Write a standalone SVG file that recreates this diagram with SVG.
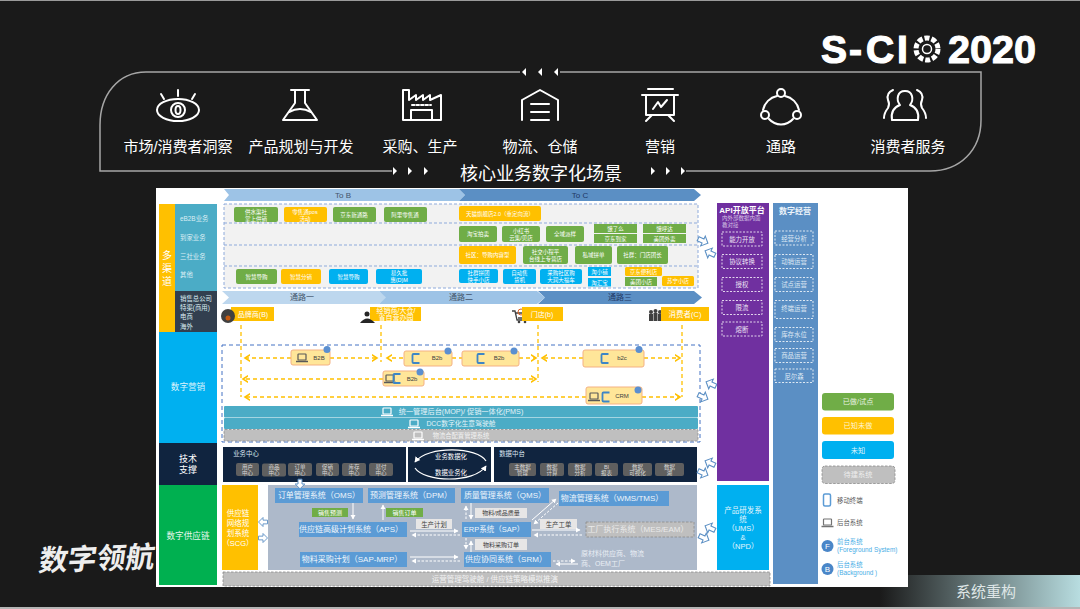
<svg xmlns="http://www.w3.org/2000/svg" width="1080" height="609" viewBox="0 0 1080 609">
<style>
text{font-family:"Liberation Sans","Noto Sans CJK SC",sans-serif;text-anchor:middle;dominant-baseline:central}
.st{text-anchor:start}
.ic{fill:none;stroke:#fff;stroke-width:2;stroke-linejoin:round;stroke-linecap:round}
.frame{fill:none;stroke:#a6a6a6;stroke-width:1.500}
.g{fill:#70ad47}.y{fill:#ffc000}.b{fill:#00b0f0}
.s5{font-size:5.500px}.s6{font-size:6px}.s63{font-size:6.400px}.s7{font-size:7px}.s75{font-size:7.500px}.s8{font-size:8px}.s86{font-size:8.600px}.s9{font-size:9px}
.dash{fill:none;stroke:#fff;stroke-width:.8;stroke-dasharray:2 1.500}
.ydash{fill:none;stroke:#ffc000;stroke-width:1.300;stroke-dasharray:4 3}
.node{fill:#ffe699;stroke:#f4b183;stroke-width:1}
.pill{fill:#5f5f5f}
.sys{fill:#5b9bd5}
.tag{fill:#e7e6e6}
.wl{fill:none;stroke:#fff;stroke-width:1}
.wd{fill:none;stroke:#fff;stroke-width:1;stroke-dasharray:2.500 1.500}
.grey{fill:#bfbfbf;stroke:#8c8c8c;stroke-width:.8;stroke-dasharray:2.500 1.500}
.gridl{fill:none;stroke:#8eaadb;stroke-width:1;stroke-dasharray:3 2}
</style>
<defs>
<marker id="ma" markerWidth="6" markerHeight="6" refX="4" refY="3" orient="auto-start-reverse"><path d="M0 .5L4 3L0 5.500" fill="none" stroke="#ffc000" stroke-width="1.200"/></marker>
<marker id="wa" markerWidth="6" markerHeight="6" refX="4" refY="3" orient="auto-start-reverse"><path d="M0 .5L4.500 3L0 5.500z" fill="#fff"/></marker>
<path id="ha" d="M-6-2.500H0V-6L6 0L0 6V2.500H-6z" fill="#fff" stroke="#5b8fc4" stroke-width="1.200"/>
<g id="lap"><rect x="-4" y="-4" width="8" height="6" rx=".6" fill="none" stroke="currentColor" stroke-width="1.200"/><path d="M-6 3.500H6" stroke="currentColor" stroke-width="1.500"/></g>
<path id="ph" d="M3.500-4.500H-2.500Q-3.500-4.500-3.500-3.500V3.500Q-3.500 4.500-2.500 4.500H3.500" fill="none" stroke="#3d85c6" stroke-width="1.800"/>
<linearGradient id="fg" x1="0" x2="1"><stop offset="0" stop-color="#1a1a1a"/><stop offset="1" stop-color="#b8dde0"/></linearGradient>
</defs>
<rect width="1080" height="609" fill="#1a1a1a"/>
<rect width="1080" height="1" fill="#9a9a9a"/>
<rect y="607" width="1080" height="2" fill="#b5b5b5"/>
<rect x="880" y="575" width="200" height="32" fill="url(#fg)"/>
<text x="986" y="591" font-size="15" fill="#dfe6e6">系统重构</text>
<g id="logo">
<text x="821 849 866 897" y="63" font-size="39" font-weight="700" fill="#fff" stroke="#fff" stroke-width="1.200" style="text-anchor:start;dominant-baseline:auto">S-CI</text>
<circle cx="927" cy="49" r="11" fill="none" stroke="#fff" stroke-width="5" stroke-dasharray="5 2"/>
<circle cx="927" cy="49" r="4.500" fill="none" stroke="#fff" stroke-width="1.500"/>
<text x="948" y="63" font-size="39" font-weight="700" fill="#fff" stroke="#fff" stroke-width="1" textLength="88" lengthAdjust="spacingAndGlyphs" style="text-anchor:start;dominant-baseline:auto">2020</text>
</g>
<text id="brand" x="97" y="559" font-size="29" font-weight="700" fill="#eeeeee" textLength="116" transform="rotate(-2 97 559) translate(97 559) skewX(-10) translate(-97 -559)">数字领航</text>
<g id="frame">
<path class="frame" d="M520 72H146C118 72 100 95 100 125V171H392M686 171H930C960 171 981 150 981 120V72H560"/>
<path d="M526 68V76L522 72zM542 68V76L538 72zM558 68V76L554 72z" fill="#fff"/>
<path d="M393 167V175L397 171zM408 167V175L412 171zM424 167V175L428 171zM651 167V175L655 171zM666 167V175L670 171zM681 167V175L685 171z" fill="#fff"/>
</g>
<text x="541" y="174" font-size="18" fill="#fff">核心业务数字化场景</text>
<g id="scene-market"><g class="ic"><ellipse cx="178" cy="110" rx="21" ry="11"/><circle cx="178" cy="110" r="7"/><ellipse cx="178" cy="110" rx="2.500" ry="4"/><path d="M178 90V96M161 94L164 99M195 94L192 99"/></g><text x="178" y="146" font-size="15" fill="#fff">市场/消费者洞察</text></g>
<g id="scene-product"><g class="ic"><path d="M291 90H309M295 90V103L283 120H317L305 103V90"/><path d="M289 112Q300 106 311 112"/></g><text x="301" y="146" font-size="15" fill="#fff">产品规划与开发</text></g>
<g id="scene-purchase"><g class="ic"><path d="M403 120V90H409V100L416 95V100L423 95V100L430 95V100L441 95V120z"/><rect x="411" y="110" width="21" height="10"/><path d="M412 105H431" stroke-dasharray="2.500 2"/></g><text x="420" y="146" font-size="15" fill="#fff">采购、生产</text></g>
<g id="scene-logistics"><g class="ic"><path d="M522 120V100L540 90L558 100V120"/><path d="M531 104H549M531 112H549M531 120H549"/></g><text x="540" y="146" font-size="15" fill="#fff">物流、仓储</text></g>
<g id="scene-marketing"><g class="ic"><path d="M648 89H673M642 95H678"/><rect x="646" y="95" width="28" height="20"/><path d="M653 109L658 102L661 107L667 100"/><path d="M652 115L646 121M668 115L674 121"/></g><text x="660" y="146" font-size="15" fill="#fff">营销</text></g>
<g id="scene-channel"><g class="ic"><circle cx="781" cy="93" r="4"/><circle cx="765" cy="115" r="4"/><circle cx="797" cy="115" r="4"/><path d="M777 96A18 18 0 0 0 763 110M785 96A18 18 0 0 1 799 110M769 119A16 16 0 0 0 793 119"/></g><text x="781" y="146" font-size="15" fill="#fff">通路</text></g>
<g id="scene-consumer"><g class="ic"><path d="M893 90Q886 93 888 100Q890 104 888 108Q884 113 884 118M917 90Q924 93 922 100Q920 104 922 108Q926 113 926 118"/><path d="M905 91C897 91 896 100 900 105C892 108 891 114 892 120H918C919 114 918 108 910 105C914 100 913 91 905 91z"/></g><text x="908" y="146" font-size="15" fill="#fff">消费者服务</text></g>

<rect id="panel" x="156" y="188" width="752" height="399" fill="#fff"/>

<g id="lane-channel">
<rect x="159" y="204" width="17" height="128" class="y"/>
<text x="167" y="268" font-size="10" fill="#fff"><tspan x="167" dy="-13">多</tspan><tspan x="167" dy="13">渠</tspan><tspan x="167" dy="13">道</tspan></text>
<rect x="175" y="204" width="42" height="87" fill="#4bacc6"/>
<rect x="175" y="291" width="42" height="41" fill="#323f4f"/>
<g class="s63" fill="#dbeef4"><text class="st" x="180" y="218">eB2B业务</text><text class="st" x="180" y="237">到家业务</text><text class="st" x="180" y="256">三社业务</text><text class="st" x="180" y="274">其他</text>
<text class="st" x="180" y="298">销售总公司</text><text class="st" x="180" y="307">特渠(商用)</text><text class="st" x="180" y="316">电商</text><text class="st" x="180" y="326">海外</text></g>
</g>
<g id="lane-marketing"><rect x="159" y="332" width="58" height="111" class="b"/><text x="188" y="387" class="s86" fill="#dff4fd">数字营销</text></g>
<g id="lane-tech"><rect x="159" y="443" width="58" height="42" fill="#10243f"/><text x="188" y="459" class="s9" fill="#fff">技术</text><text x="188" y="470" class="s9" fill="#fff">支撑</text></g>
<g id="lane-supply"><rect x="159" y="485" width="58" height="100" fill="#00b050"/><text x="188" y="536" class="s86" fill="#e6f7ec">数字供应链</text></g>

<g id="headers">
<path d="M224 189H459L465 195L459 201H224L229 195z" fill="#9dc3e6"/>
<path d="M459 189H694L701 195L694 201H459L465 195z" fill="#5b8fc4"/>
<text x="343" y="195" class="s8" fill="#44546a">To B</text><text x="580" y="195" class="s8" fill="#1f3864">To C</text>
<path d="M222 291H379L387 297.500L379 304H222L229 297.500z" fill="#bdd7ee"/>
<path d="M379 291H537L545 297.500L537 304H379L386 297.500z" fill="#9dc3e6"/>
<path d="M538 291H694L702 297.500L694 304H538L545 297.500z" fill="#5b8fc4"/>
<text x="302" y="297.500" class="s8" fill="#44546a">通路一</text><text x="461" y="297.500" class="s8" fill="#44546a">通路二</text><text x="620" y="297.500" class="s8" fill="#1f3864">通路三</text>
</g>

<g id="channel-grid">
<rect x="224" y="204" width="474" height="84" fill="#f2f2f2"/>
<rect x="224" y="204" width="474" height="84" class="gridl"/>
<path class="gridl" d="M224 223H698M224 245H698M224 266H698"/>
<g fill="#fff" class="s5">
<rect x="234" y="207" width="44" height="15" rx="2" class="g"/><text x="256" y="211.500">供水渠社</text><text x="256" y="218.500">掌上供销</text>
<rect x="284" y="207" width="43" height="15" rx="2" class="y"/><text x="305" y="211.500">零售通pos</text><text x="305" y="218.500">活动</text>
<rect x="333" y="207" width="43" height="15" rx="2" class="g"/><text x="354" y="214.500">京东新通路</text>
<rect x="384" y="207" width="43" height="15" rx="2" class="g"/><text x="405" y="214.500">阿里零售通</text>
<rect x="459" y="206" width="82" height="15" rx="2" class="y"/><text x="500" y="213.500">天猫旗舰店2.0（重定向流）</text>
<rect x="459" y="226" width="38" height="16" rx="2" class="g"/><text x="478" y="234">淘宝拍卖</text>
<rect x="502" y="226" width="38" height="16" rx="2" class="g"/><text x="521" y="230.500">小红书</text><text x="521" y="237.500">云集/贝店</text>
<rect x="546" y="226" width="38" height="16" rx="2" class="g"/><text x="565" y="234">全域派样</text>
<rect x="594" y="224" width="43" height="9" class="g"/><text x="615.500" y="228.500">饿了么</text>
<rect x="594" y="234" width="43" height="9" class="g"/><text x="615.500" y="238.500">京东到家</text>
<rect x="643" y="224" width="43" height="9" class="g"/><text x="664.500" y="228.500">饿呼达</text>
<rect x="643" y="234" width="43" height="9" class="g"/><text x="664.500" y="238.500">美团外卖</text>
<rect x="459" y="246" width="57" height="18" rx="2" class="y"/><text x="487.500" y="255">社区：导购内容型</text>
<rect x="523" y="246" width="45" height="18" rx="2" class="g"/><text x="545.500" y="251.500">社交小程平</text><text x="545.500" y="258.500">台线上专营店</text>
<rect x="575" y="246" width="37" height="18" rx="2" class="g"/><text x="593.500" y="255">私域拼单</text>
<rect x="617" y="246" width="51" height="18" rx="2" class="g"/><text x="642.500" y="255">社群：门店团长</text>
<rect x="236" y="269" width="41" height="15" rx="2" class="g"/><text x="256.500" y="276.500">智慧导购</text>
<rect x="281" y="269" width="40" height="15" rx="2" class="y"/><text x="301" y="276.500">智慧分销</text>
<rect x="329" y="269" width="39" height="15" rx="2" class="b"/><text x="348.500" y="276.500">智慧导购</text>
<rect x="376" y="269" width="46" height="15" rx="2" class="b"/><text x="399" y="273">易久批</text><text x="399" y="280">惠(D)M</text>
<rect x="459" y="269" width="39" height="14" rx="2" class="b"/><text x="478.500" y="272.500">社群拼团</text><text x="478.500" y="279.500">快手小店</text>
<rect x="503" y="269" width="33" height="15" rx="2" class="b"/><text x="519.500" y="273">自动售</text><text x="519.500" y="280">货机</text>
<rect x="540" y="269" width="42" height="15" rx="2" class="b"/><text x="561" y="273">采购社区购</text><text x="561" y="280">大润大福车</text>
<rect x="588" y="267" width="23" height="9" class="b"/><text x="599.500" y="271.500">淘小铺</text>
<rect x="588" y="278" width="23" height="8.500" class="b"/><text x="599.500" y="282.500">淘汇宝</text>
<rect x="625" y="267" width="37" height="9" rx="1.500" class="y"/><text x="643.500" y="271.500">京东便利店</text>
<rect x="625" y="277" width="32" height="9" class="g"/><text x="641" y="281.500">美团小店</text>
<rect x="662" y="276" width="32" height="10" rx="1.500" class="y"/><text x="678" y="281">苏宁小店</text>
</g></g>

<g id="actors" fill="#fff" class="s7">
<rect x="231" y="307" width="43" height="14" class="y"/><circle cx="228" cy="316" r="7" fill="#404040"/><circle cx="228" cy="318" r="2.500" fill="#c55a11"/><text x="253" y="314">品牌商(B)</text>
<rect x="370" y="307" width="51" height="14" class="y"/><circle cx="367" cy="314" r="2.500" fill="#262626"/><path d="M360 323Q367 314 375 323z" fill="#262626"/><text x="396" y="310.500">经销商/大仓/</text><text x="396" y="317.500">省自营办园</text>
<path d="M512 311H515L517 320H526M516 313H527L526 318H518" fill="none" stroke="#404040" stroke-width="1.300"/><circle cx="521" cy="312" r="3" fill="none" stroke="#e06020"/><circle cx="519" cy="322" r="1.300" fill="#404040"/><circle cx="525" cy="322" r="1.300" fill="#404040"/><rect x="522" y="307" width="41" height="14" class="y"/><text x="542" y="314">门店(b)</text>
<g fill="#404040"><circle cx="651" cy="312" r="2"/><rect x="649" y="314" width="4" height="7"/><circle cx="655.500" cy="311" r="2"/><rect x="653.500" y="313" width="4" height="8"/><circle cx="660" cy="312" r="2"/><rect x="658" y="314" width="4" height="7"/></g><rect x="661" y="307" width="48" height="14" class="y"/><text x="685" y="314" class="s75">消费者(C)</text>
</g>

<g id="marketing-frame"><rect x="222" y="345" width="478" height="97" fill="none" stroke="#4472c4" stroke-width="1" stroke-dasharray="4 3"/></g>

<g id="connectors">
<path class="ydash" d="M241 325V397M381 325V362M538 325V382M682 325V397"/>
<g class="ydash"><path d="M291 358H245" marker-end="url(#ma)"/><path d="M330 358H377" marker-end="url(#ma)"/><path d="M403 358H387" marker-end="url(#ma)"/><path d="M452 358H462"/><path d="M519 358H536" marker-end="url(#ma)"/><path d="M583 358H542" marker-end="url(#ma)"/><path d="M644 358H680" marker-end="url(#ma)"/><path d="M383 379H243" marker-end="url(#ma)"/><path d="M424 379H536" marker-end="url(#ma)"/><path d="M586 397H245" marker-end="url(#ma)"/><path d="M642 397H680" marker-end="url(#ma)"/></g>
</g>

<g id="n-b2b-1"><rect class="node" x="291" y="350" width="39" height="15" rx="2"/><use href="#lap" x="302" y="358" color="#595959"/><text x="319" y="357.500" class="s6" fill="#404040">B2B</text><circle cx="327" cy="349.500" r="3.500" fill="#5b8fd0"/></g>
<g id="n-b2b-2"><rect class="node" x="404" y="351" width="48" height="15" rx="2"/><use href="#ph" x="416" y="358.500"/><text x="437" y="358" class="s6" fill="#404040">B2b</text><circle cx="448" cy="351" r="3.500" fill="#5b8fd0"/></g>
<g id="n-b2b-3"><rect class="node" x="462" y="351" width="57" height="15" rx="2"/><use href="#ph" x="481" y="358.500"/><text x="499" y="358" class="s6" fill="#404040">B2b</text><circle cx="514" cy="351" r="3.500" fill="#5b8fd0"/></g>
<g id="n-b2c"><rect class="node" x="583" y="350" width="61" height="17" rx="2"/><use href="#ph" x="605" y="358.500"/><text x="622" y="358" class="s6" fill="#404040">b2c</text><circle cx="639" cy="349.500" r="3.500" fill="#5b8fd0"/></g>
<g id="n-b2b-4"><rect class="node" x="383" y="371" width="41" height="15" rx="2"/><use href="#lap" x="390" y="379" color="#595959"/><use href="#ph" x="397" y="378.500"/><text x="412" y="378.500" class="s6" fill="#404040">B2b</text><circle cx="420" cy="372" r="3.500" fill="#5b8fd0"/></g>
<g id="n-crm"><rect class="node" x="586" y="387" width="56" height="17" rx="2"/><use href="#lap" x="594" y="397" color="#595959"/><use href="#ph" x="606" y="397"/><text x="622" y="395.500" class="s6" fill="#404040">CRM</text><circle cx="638" cy="390" r="3.500" fill="#5b8fd0"/></g>

<g id="bars">
<rect x="224" y="406" width="474" height="11.500" rx="1" fill="#4bacc6"/><use href="#lap" x="387" y="412" color="#fff"/><text x="461" y="411.500" font-size="7.200" fill="#e3f3f8">统一管理后台(MOP)/ 促销一体化(PMS)</text>
<rect x="224" y="418" width="474" height="11" rx="1" fill="#4bacc6"/><use href="#lap" x="414" y="424" color="#fff"/><text x="461" y="423.500" font-size="6.800" fill="#e3f3f8">DCC数字化生意驾驶舱</text>
<rect x="224" y="429.500" width="474" height="11.500" rx="1" class="grey"/><use href="#lap" x="418" y="436" color="#fff"/><text x="461" y="435" font-size="6.300" fill="#f2f2f2">物流合配置管理系统</text>
</g>

<g id="biz-center">
<rect x="223" y="447" width="183" height="35" fill="#10243f"/>
<text x="246" y="453" class="s63" fill="#dce6f2">业务中心</text>
<g fill="#d9d9d9" class="s5">
<rect class="pill" x="236" y="463" width="23" height="13" rx="2"/><text x="247.500" y="466.500">用户</text><text x="247.500" y="472.500">中心</text>
<rect class="pill" x="262" y="463.500" width="24" height="13" rx="2"/><text x="274" y="467">商品</text><text x="274" y="473">中心</text>
<rect class="pill" x="288" y="463" width="24" height="13" rx="2"/><text x="300" y="466.500">订单</text><text x="300" y="472.500">中心</text>
<rect class="pill" x="316" y="463" width="23" height="13" rx="2"/><text x="327.500" y="466.500">促销</text><text x="327.500" y="472.500">中心</text>
<rect class="pill" x="342" y="463" width="24" height="13" rx="2"/><text x="354" y="466.500">库存</text><text x="354" y="472.500">中心</text>
<rect class="pill" x="369" y="463" width="24" height="13" rx="2"/><text x="381" y="466.500">易付</text><text x="381" y="472.500">中心</text>
</g></g>
<g id="twin">
<rect x="408" y="447" width="83" height="35" fill="#10243f"/>
<path d="M486 461C478 447 428 445 415 462" fill="none" stroke="#fff" stroke-width="1.200" marker-end="url(#wa)"/>
<path d="M415 468C424 482 474 484 486 466" fill="none" stroke="#fff" stroke-width="1.200" marker-end="url(#wa)"/>
<text x="451" y="456" class="s63" fill="#fff">业务数据化</text><text x="451" y="472" class="s63" fill="#fff">数据业务化</text>
</g>
<g id="data-center">
<rect x="494" y="447" width="203" height="35" fill="#10243f"/>
<text x="512" y="453" class="s63" fill="#dce6f2">数据中台</text>
<g fill="#d9d9d9" class="s5">
<rect class="pill" x="509" y="463" width="27" height="13" rx="2"/><text x="522.500" y="466.500">主数据</text><text x="522.500" y="472.500">管理</text>
<rect class="pill" x="540" y="463" width="24" height="13" rx="2"/><text x="552" y="466.500">数据</text><text x="552" y="472.500">计算</text>
<rect class="pill" x="568" y="463" width="24" height="13" rx="2"/><text x="580" y="466.500">数据</text><text x="580" y="472.500">分析</text>
<rect class="pill" x="595" y="463" width="23" height="13" rx="2"/><text x="606.500" y="466.500">BI</text><text x="606.500" y="472.500">报表</text>
<rect class="pill" x="623" y="463" width="29" height="13" rx="2"/><text x="637.500" y="466.500">数据</text><text x="637.500" y="472.500">可视化</text>
<rect class="pill" x="655" y="463" width="29" height="13" rx="2"/><text x="669.500" y="466.500">数据</text><text x="669.500" y="472.500">湖</text>
</g></g>

<g id="scg"><rect x="222" y="485" width="36" height="85" class="y"/><g fill="#fff" class="s75"><text x="238" y="513">供应链</text><text x="238" y="523">网络规</text><text x="238" y="533">划系统</text><text x="238" y="543">（SCG）</text></g></g>
<rect id="supply-bg" x="268" y="485" width="429" height="85" fill="#adb9ca"/>
<g id="oms"><rect class="sys" x="275" y="488" width="88" height="15"/><text x="319" y="495.500" class="s8" fill="#eef5fb">订单管理系统（OMS）</text></g>
<g id="dpm"><rect class="sys" x="368" y="488" width="87" height="15"/><text x="411" y="495.500" class="s8" fill="#eef5fb">预测管理系统（DPM）</text></g>
<g id="qms"><rect class="sys" x="461" y="488" width="88" height="15"/><text x="505" y="495.500" class="s8" fill="#eef5fb">质量管理系统（QMS）</text></g>
<g id="wms"><rect class="sys" x="559" y="491" width="110" height="15"/><text x="612" y="498.500" class="s8" fill="#eef5fb">物流管理系统（WMS/TMS）</text></g>
<g id="aps"><rect class="sys" x="299" y="522" width="108" height="15"/><text x="351" y="529.500" class="s8" fill="#eef5fb">供应链高级计划系统（APS）</text></g>
<g id="erp"><rect class="sys" x="462" y="522" width="69" height="15"/><text x="494" y="529.500" class="s75" fill="#eef5fb">ERP系统（SAP）</text></g>
<g id="mes"><rect x="586" y="522" width="108" height="15" class="grey"/><text x="638" y="529.500" class="s8" fill="#eaeaea">工厂执行系统（MES/EAM）</text></g>
<g id="mrp"><rect class="sys" x="300" y="552" width="107" height="15"/><text x="352" y="559.500" class="s8" fill="#eef5fb">物料采购计划（SAP-MRP）</text></g>
<g id="srm"><rect class="sys" x="464" y="552" width="87" height="15"/><text x="506" y="559.500" class="s8" fill="#eef5fb">供应协同系统（SRM）</text></g>
<g id="supply-notes" class="s6">
<rect class="g" x="312" y="508" width="36" height="9"/><text x="330" y="512.500" fill="#fff">销售预测</text>
<rect class="g" x="386" y="508" width="37" height="9"/><text x="404.500" y="512.500" fill="#fff">销售订单</text>
<rect class="tag" x="416" y="519" width="36" height="10"/><text x="434" y="524" fill="#404040" class="s63">生产计划</text>
<rect class="tag" x="475" y="508" width="52" height="10"/><text x="501" y="513" fill="#404040">物料/成品质量</text>
<rect class="tag" x="475" y="539" width="52" height="11"/><text x="501" y="544.500" fill="#404040">物料采购订单</text>
<rect class="tag" x="540" y="519" width="37" height="10"/><text x="558.500" y="524" fill="#404040" class="s63">生产工单</text>
<text x="581" y="553" fill="#e9eef5" class="s7 st">原材料供应商、物流</text><text x="581" y="563" fill="#e9eef5" class="s7 st">商、OEM工厂</text>
</g>
<g id="supply-connectors">
<path class="wl" d="M353 503V519" marker-end="url(#wa)"/><path class="wl" d="M383 520V505" marker-end="url(#wa)"/>
<path class="wl" d="M410 531H458" marker-end="url(#wa)"/><path class="wd" d="M460 535H412" marker-end="url(#wa)"/>
<path class="wl" d="M410 557H458" marker-end="url(#wa)"/><path class="wd" d="M460 561H412" marker-end="url(#wa)"/>
<path class="wd" d="M466 519V506" marker-end="url(#wa)"/><path class="wl" d="M471 503V519" marker-end="url(#wa)"/>
<path class="wd" d="M466 538V549" marker-end="url(#wa)"/><path class="wl" d="M471 552V541" marker-end="url(#wa)"/>
<path class="wl" d="M532 520L556 499" marker-end="url(#wa)"/><path class="wd" d="M558 503L534 524" marker-end="url(#wa)"/>
<path class="wl" d="M532 530H580" marker-end="url(#wa)"/><path class="wd" d="M582 535H534" marker-end="url(#wa)"/>
<path class="wd" d="M553 561H575" marker-end="url(#wa)"/><path class="wl" d="M578 564H556" marker-end="url(#wa)"/>
<use href="#ha" transform="translate(300 484) rotate(90) scale(.8)"/>
<use href="#ha" transform="translate(263 522) rotate(180) scale(.75)"/><use href="#ha" transform="translate(263 538) scale(.75)"/>
<use href="#ha" transform="translate(703 241) rotate(25) scale(.9)"/><use href="#ha" transform="translate(710 253) rotate(205) scale(.9)"/>
<use href="#ha" transform="translate(711 384) rotate(205) scale(.9)"/><use href="#ha" transform="translate(703 397) rotate(25) scale(.9)"/>
<use href="#ha" transform="translate(710 463) rotate(205) scale(.9)"/><use href="#ha" transform="translate(703 473) rotate(25) scale(.9)"/>
<use href="#ha" transform="translate(710 528) rotate(205) scale(.9)"/><use href="#ha" transform="translate(704 538) rotate(25) scale(.9)"/>
</g>
<g id="ops-bar"><rect x="223" y="572" width="547" height="14" class="grey"/><text x="495" y="579" class="s75" fill="#f2f2f2">运营管理驾驶舱 / 供应链策略模拟推演</text></g>

<g id="api">
<rect x="717" y="203" width="52" height="278" fill="#7030a0"/>
<text x="742" y="210" class="s8" font-weight="700" fill="#fff">API开放平台</text>
<text x="722" y="218" class="s5 st" fill="#d9c7e6">内外部数据内面</text><text x="722" y="225" class="s5 st" fill="#d9c7e6">教对接</text>
<rect class="dash" x="722" y="232" width="40" height="14"/><text x="742" y="239" class="s63" fill="#ece3f3">能力开放</text>
<rect class="dash" x="722" y="254.500" width="40" height="14"/><text x="742" y="261.500" class="s63" fill="#ece3f3">协议转换</text>
<rect class="dash" x="722" y="277.500" width="40" height="14"/><text x="742" y="284.500" class="s63" fill="#ece3f3">授权</text>
<rect class="dash" x="722" y="300.500" width="40" height="14"/><text x="742" y="307.500" class="s63" fill="#ece3f3">限流</text>
<rect class="dash" x="722" y="322" width="40" height="14"/><text x="742" y="329" class="s63" fill="#ece3f3">熔断</text>
</g>
<g id="rd"><rect x="717" y="485" width="52" height="85" class="b"/><g class="s75" fill="#e3f6fd"><text x="743" y="510">产品研发系</text><text x="743" y="519">统</text><text x="743" y="528">（UMS）</text><text x="743" y="537">&amp;</text><text x="743" y="546">（NPD）</text></g></g>
<g id="ops">
<rect x="773" y="203" width="45" height="381" fill="#5b8fc4"/>
<text x="795" y="211" class="s8" font-weight="700" fill="#eef5fb">数字经营</text>
<rect class="dash" x="775" y="231" width="38" height="14"/><text x="794" y="238" class="s63" fill="#dfe9f4">经营分析</text>
<rect class="dash" x="775" y="254.500" width="38" height="14"/><text x="794" y="261.500" class="s63" fill="#dfe9f4">动销运营</text>
<rect class="dash" x="775" y="277.500" width="38" height="14"/><text x="794" y="284.500" class="s63" fill="#dfe9f4">试点运营</text>
<rect class="dash" x="775" y="300.500" width="38" height="18"/><text x="794" y="308.500" class="s63" fill="#dfe9f4">终端运营</text>
<rect class="dash" x="775" y="327.500" width="38" height="14"/><text x="794" y="334.500" class="s63" fill="#dfe9f4">库存水位</text>
<rect class="dash" x="775" y="348.500" width="38" height="14"/><text x="794" y="355.500" class="s63" fill="#dfe9f4">商品运营</text>
<rect class="dash" x="775" y="369" width="38" height="13.500"/><text x="794" y="376" class="s63" fill="#dfe9f4">尼尔森</text>
</g>
<g id="legend">
<rect x="822" y="393" width="72" height="17.500" rx="3" class="g"/><text x="858" y="401.500" font-size="7.200" fill="#e8f3e0">已做/试点</text>
<rect x="822" y="417" width="72" height="17.500" rx="3" class="y"/><text x="858" y="425.500" font-size="7.200" fill="#fff4cf">已知未做</text>
<rect x="822" y="441" width="72" height="18" rx="3" class="b"/><text x="858" y="450" font-size="7.200" fill="#dff4fd">未知</text>
<rect x="822" y="466" width="73" height="17.500" rx="3" class="grey"/><text x="858" y="474.500" font-size="7.200" fill="#eeeeee">待建系统</text>
<rect x="823.500" y="494" width="7" height="12" rx="1.500" fill="none" stroke="#5b9bd5" stroke-width="1.500"/><text x="837" y="500" class="s63 st" fill="#595959">移动终端</text>
<use href="#lap" x="827.500" y="523" color="#737373"/><text x="837" y="522.500" class="s63 st" fill="#595959">后台系统</text>
<circle cx="827.500" cy="546" r="6" fill="#4a86c8"/><text x="827.500" y="546" class="s8" fill="#fff">F</text><text x="837" y="541" class="s63 st" fill="#4aaee6">前台系统</text><text x="837" y="549" class="s63 st" fill="#4aaee6">(Foreground System)</text>
<circle cx="827.500" cy="569" r="6" fill="#4a86c8"/><text x="827.500" y="569" class="s8" fill="#fff">B</text><text x="837" y="564" class="s63 st" fill="#4aaee6">后台系统</text><text x="837" y="572" class="s63 st" fill="#4aaee6">(Background )</text>
</g>
</svg>
